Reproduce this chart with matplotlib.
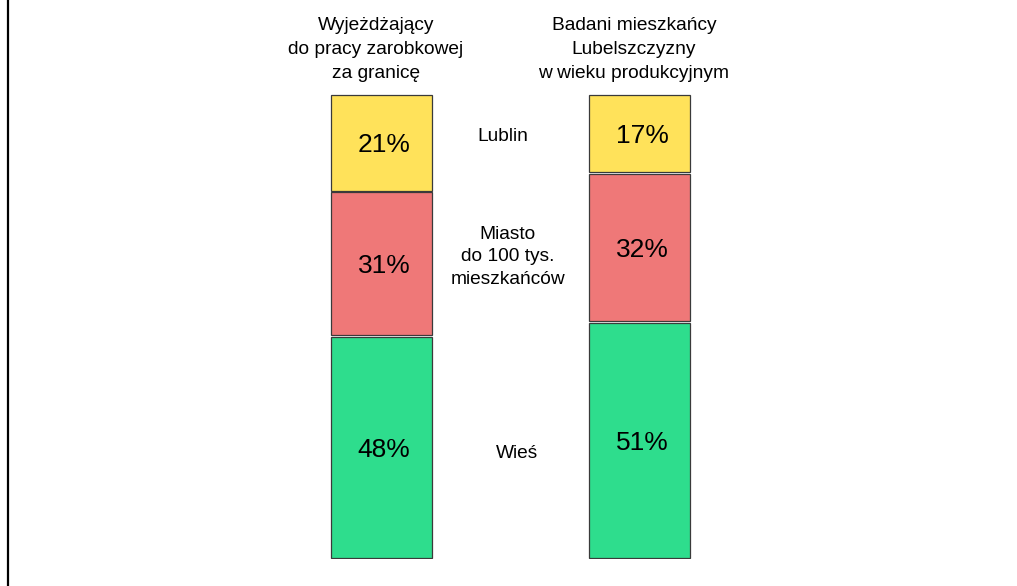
import numpy as np
import matplotlib
matplotlib.use('Agg')
import matplotlib.pyplot as plt
from matplotlib.lines import Line2D

plt.rcParams['font.family'] = ['Liberation Sans', 'DejaVu Sans']

groups = ['Wyjeżdżający\ndo pracy zarobkowej\nza granicę',
          'Badani mieszkańcy\nLubelszczyzny\nw wieku produkcyjnym']
# stacked from bottom to top
categories = ['Wieś', 'Miasto\ndo 100 tys.\nmieszkańców', 'Lublin']
values = {
    'Wieś':   [48, 51],
    'Miasto\ndo 100 tys.\nmieszkańców': [31, 32],
    'Lublin': [21, 17],
}
colors = ['#2EDD8D', '#EF7878', '#FFE25A']

W, H = 1017, 586
fig = plt.figure(figsize=(W / 100, H / 100), dpi=100, facecolor='white')
# bar area: 0% at y=559 px, 100% at y=94 px
ax = fig.add_axes([0, (H - 559) / H, 1, (559 - 94) / H])
x = np.arange(len(groups))
# bar centers at 381.5 px and 639.5 px
step = 258.0
ax.set_xlim(-381.5 / step, (W - 381.5) / step)
ax.set_ylim(0, 100)
ax.axis('off')

width = 101 / step
gap = 0.35
bottom = np.zeros(len(groups))
centers = []
for cat, col in zip(categories, colors):
    v = np.array(values[cat], dtype=float)
    ax.bar(x, v - gap, width, bottom=bottom + gap / 2, color=col,
           edgecolor='#3a3a3a', linewidth=0.9)
    mid = bottom + v / 2
    centers.append(mid)
    for xi, yi, vi in zip(x, mid, v):
        ax.text(xi + 0.01, yi - 0.5, f'{vi:.0f}%', ha='center', va='center',
                fontsize=19, color='black')
    bottom += v

# category labels between bars (order: Wieś, Miasto, Lublin)
label_dx = [0.525, 0.49, 0.47]
label_dy = [-2.1, -0.3, 0.3]
for cat, mid, dx, dy in zip(categories, centers, label_dx, label_dy):
    ax.text(dx, mid.mean() + dy, cat, ha='center', va='center',
            fontsize=13.8, linespacing=1.45)

# group titles above bars
for xi, g in zip(x, groups):
    ax.text(xi - 0.022, 109.6, g, ha='center', va='center', fontsize=13.8,
            linespacing=1.52, clip_on=False)

# frame line on the left
fig.add_artist(Line2D([7.7 / W, 7.7 / W], [0, 1], color='black', lw=1.6,
                      transform=fig.transFigure))

fig.savefig('out.png', dpi=100, facecolor='white')
